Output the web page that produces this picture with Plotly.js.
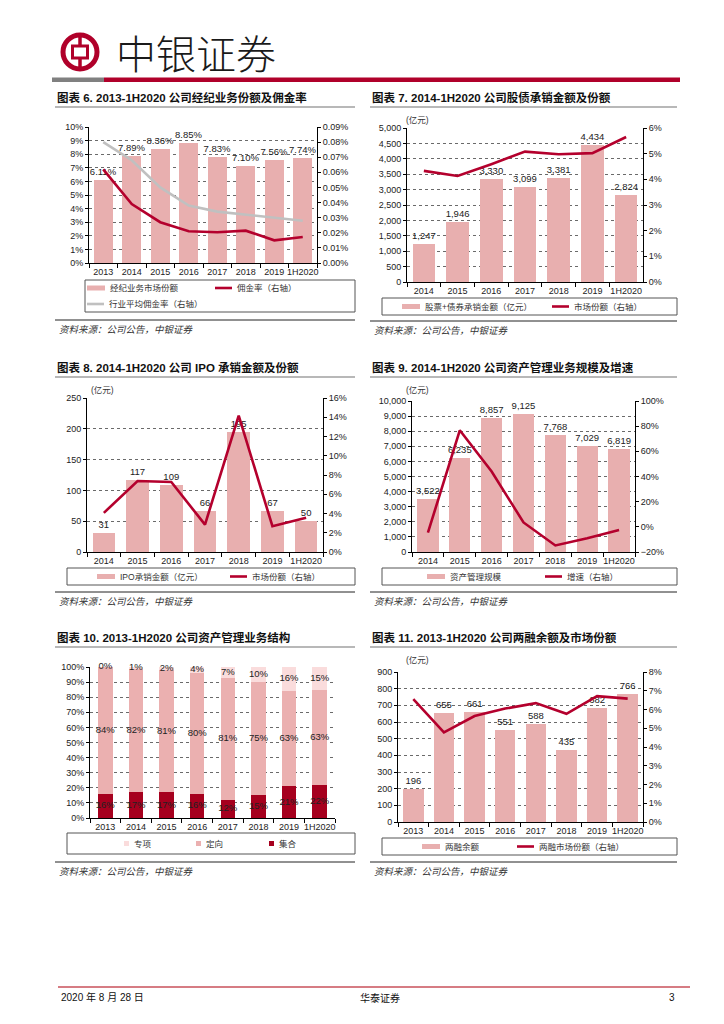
<!DOCTYPE html>
<html><head><meta charset="utf-8">
<script src="https://cdn.plot.ly/plotly-3.0.1.min.js"></script>
<style>html,body{margin:0;padding:0;background:#fff;}#page{width:724px;height:1024px;}</style>
</head><body><div id="page"></div>
<script>
// ---------------- data ----------------
const years8 = ['2013','2014','2015','2016','2017','2018','2019','1H2020'];
const years7 = ['2014','2015','2016','2017','2018','2019','1H2020'];
// 图表6
const brokerShare = [6.11,7.89,8.36,8.85,7.83,7.10,7.56,7.74];
const commissionRate = [0.062,0.039,0.027,0.021,0.0203,0.0214,0.015,0.0172];
const industryRate = [0.080,0.068,0.050,0.038,0.034,0.032,0.030,0.028];
// 图表7
const underwritingAmt = [1247,1946,3330,3099,3381,4434,2824];
const underwritingShare = [4.33,4.13,4.59,5.08,4.98,5.02,5.65];
// 图表8
const ipoAmt = [31,117,109,66,195,67,50];
const ipoShare = [4.07,7.37,7.27,2.85,14.16,2.68,3.55];
// 图表9
const amScale = [3522,6235,8857,9125,7768,7029,6819];
const amGrowth = [-4.6,76.7,44,3.5,-14.8,-9,-2.5];
// 图表10
const amSpecial = [0,1,2,4,7,10,16,15];
const amDirected = [84,82,81,80,81,75,63,63];
const amCollective = [16,17,17,16,12,15,21,22];
// 图表11
const marginAmt = [196,655,661,551,588,435,682,766];
const marginShare = [6.55,4.78,5.65,6.05,6.34,5.77,6.71,6.58];

// ---------------- helpers ----------------
const W=724,H=1024;
const px=x=>x/W, py=y=>1-y/H;
const RED='#b4002d', PINK='#e8afaf', GREY='#c0c0c0', GRID='#6a6a6a';
const NUM='"Liberation Sans", Arial, sans-serif';
const CJK='"Noto Sans CJK SC", sans-serif';
const MIX='"Liberation Sans", "Noto Sans CJK SC", sans-serif';

const layout={width:W,height:H,margin:{l:0,r:0,t:0,b:0},paper_bgcolor:'#fff',plot_bgcolor:'rgba(0,0,0,0)',
  showlegend:false,barmode:'stack',font:{family:NUM,size:9,color:'#222'},shapes:[],annotations:[]};
const data=[];

function txt(text,x,y,o){
  o=o||{};
  layout.annotations.push({text:text,x:px(x),y:py(y),xref:'paper',yref:'paper',showarrow:false,
    xanchor:o.xa||'left',yanchor:'middle',
    font:{family:o.family||CJK,size:o.size||9,color:o.color||'#222',weight:o.weight||'normal',style:o.style||'normal'}});
}
function line(x0,y0,x1,y1,color,w){
  layout.shapes.push({type:'line',xref:'paper',yref:'paper',x0:px(x0),y0:py(y0),x1:px(x1),y1:py(y1),line:{color:color,width:w}});
}
function rect(x0,y0,x1,y1,fill,lc,lw){
  layout.shapes.push({type:'rect',xref:'paper',yref:'paper',x0:px(x0),y0:py(y0),x1:px(x1),y1:py(y1),
    fillcolor:fill||'rgba(0,0,0,0)',line:{color:lc||'rgba(0,0,0,0)',width:lw||0}});
}

function axes(i,cfg){
  const xn=i===1?'x':'x'+i, xk=i===1?'xaxis':'xaxis'+i;
  const li=2*i-1, ri=2*i;
  const yl=li===1?'y':'y'+li, ylk=li===1?'yaxis':'yaxis'+li;
  const yr='y'+ri, yrk='yaxis'+ri;
  const [x0,y0,x1,y1]=cfg.rect;
  const tf={family:NUM,size:9,color:'#222'};
  layout[xk]={domain:[px(x0),px(x1)],anchor:yl,type:'category',showline:true,linecolor:'#000',linewidth:1,
    ticks:'outside',tickson:'boundaries',ticklen:4,tickcolor:'#000',showgrid:false,zeroline:false,
    tickangle:0,tickfont:tf,range:[-0.5,cfg.n-0.5],fixedrange:true};
  layout[ylk]=Object.assign({domain:[py(y1),py(y0)],anchor:xn,showline:true,linecolor:'#000',linewidth:1,
    ticks:'outside',ticklen:3,tickcolor:'#000',showgrid:true,gridcolor:GRID,griddash:'dot',gridwidth:1,
    zeroline:false,tickfont:tf,fixedrange:true},cfg.left);
  if(cfg.right){
    layout[yrk]=Object.assign({overlaying:yl,side:'right',anchor:xn,showline:true,linecolor:'#000',linewidth:1,
      ticks:'outside',ticklen:3,tickcolor:'#000',showgrid:false,zeroline:false,tickfont:tf,fixedrange:true},cfg.right);
  }
  return {x:xn,yl:yl,yr:yr};
}
function barTrace(ax,cats,vals,tmpl){
  return {type:'bar',x:cats,y:vals,xaxis:ax.x,yaxis:ax.yl,width:0.67,marker:{color:PINK,line:{width:0}},
    texttemplate:tmpl,textposition:'outside',constraintext:'none',textfont:{family:NUM,size:9.5,color:'#222'},cliponaxis:false,hoverinfo:'skip'};
}
function lineTrace(ax,cats,vals,color){
  return {type:'scatter',mode:'lines',x:cats,y:vals,xaxis:ax.x,yaxis:ax.yr,line:{color:color||RED,width:2.6},hoverinfo:'skip',cliponaxis:false};
}
function frame(title,tx,ty,ux0,ux1,srcY){
  txt(title,tx,ty,{family:MIX,size:11.5,weight:'bold',color:'#111'});
  line(ux0,ty+10,ux1,ty+10,'#a0a0a0',1.5);
  line(ux0,srcY,ux1,srcY,'#222',1);
  txt('资料来源：公司公告，中银证券',ux0+2,srcY+9,{size:9.5,style:'italic',color:'#333'});
}
function legBox(x0,y0,x1,y1){ rect(x0,y0,x1,y1,null,'#555',1); }
function legBar(x,y,label,color,w,h){ rect(x,y-(h||5)/2,x+(w||18),y+(h||5)/2,color||PINK); txt(label,x+(w||18)+3,y,{size:8.5,color:'#333',family:MIX}); }
function legLine(x,y,label,color){ line(x,y,x+17,y,color||RED,2.6); txt(label,x+20,y,{size:8.5,color:'#333',family:MIX}); }

// ---------------- header / footer ----------------
layout.shapes.push({type:'circle',xref:'paper',yref:'paper',x0:px(63),y0:py(35),x1:px(97),y1:py(69),fillcolor:'#fff',line:{color:'#b0002a',width:5}});
line(80,34,80,47,'#b0002a',3.5);
line(80,57,80,70,'#b0002a',3.5);
rect(72.5,46,87.5,58,'#fff','#b0002a',3);
txt('中银证券',114,52,{size:40,color:'#1a1a1a',weight:300});
rect(52,77.5,104,82,'#808080');
rect(104,77.5,680,82,'#b0002a');
line(58,987,690,987,'#c8505a',1.5);
txt('2020 年 8 月 28 日',59,997,{size:10,family:MIX,color:'#111'});
txt('华泰证券',380,997,{size:10,xa:'center',color:'#111'});
txt('3',677,997,{size:10,xa:'right',family:NUM,color:'#111'});

// ---------------- 图表6 ----------------
frame('图表 6. 2013-1H2020 公司经纪业务份额及佣金率',55,97,55,355,320);
let a=axes(1,{rect:[89,127,317,263],n:8,
  left:{range:[0,10],dtick:1,tick0:0,tickformat:'d',ticksuffix:'%'},
  right:{range:[0,0.09],dtick:0.01,tick0:0,tickformat:'.2f',ticksuffix:'%'}});
data.push(barTrace(a,years8,brokerShare,'%{y:.2f}%'));
data.push(lineTrace(a,years8,industryRate,GREY));
data.push(lineTrace(a,years8,commissionRate,RED));
legBox(85,280,355,312);
legBar(87,288,'经纪业务市场份额');
legLine(215,288,'佣金率（右轴）');
legLine(87,304,'行业平均佣金率（右轴）',GREY);

// ---------------- 图表7 ----------------
frame('图表 7. 2014-1H2020 公司股债承销金额及份额',370,97,370,677,321);
a=axes(2,{rect:[407,128,643,282],n:7,
  left:{range:[0,5000],dtick:500,tick0:0,tickformat:',d'},
  right:{range:[0,6],dtick:1,tick0:0,tickformat:'d',ticksuffix:'%'}});
data.push(barTrace(a,years7,underwritingAmt,'%{y:,d}'));
data.push(lineTrace(a,years7,underwritingShare));
txt('(亿元)',404,120,{size:8.5,family:MIX,color:'#333'});
legBox(382,298,677,315);
legBar(402,306.5,'股票+债券承销金额（亿元）');
legLine(552,306.5,'市场份额（右轴）');

// ---------------- 图表8 ----------------
frame('图表 8. 2014-1H2020 公司 IPO 承销金额及份额',55,367,55,355,592);
a=axes(3,{rect:[87,398,323,552],n:7,
  left:{range:[0,250],dtick:50,tick0:0,tickformat:'d'},
  right:{range:[0,16],dtick:2,tick0:0,tickformat:'d',ticksuffix:'%'}});
data.push(barTrace(a,years7,ipoAmt,'%{y}'));
data.push(lineTrace(a,years7,ipoShare));
txt('(亿元)',89,390,{size:8.5,family:MIX,color:'#333'});
legBox(67,568,355,585);
legBar(97,576.5,'IPO承销金额（亿元）');
legLine(230,576.5,'市场份额（右轴）');

// ---------------- 图表9 ----------------
frame('图表 9. 2014-1H2020 公司资产管理业务规模及增速',370,367,370,677,592);
a=axes(4,{rect:[412,401,635,552],n:7,
  left:{range:[0,10000],dtick:1000,tick0:0,tickformat:',d'},
  right:{range:[-20,100],dtick:20,tick0:-20,tickformat:'d',ticksuffix:'%'}});
data.push(barTrace(a,years7,amScale,'%{y:,d}'));
data.push(lineTrace(a,years7,amGrowth));
txt('(亿元)',404,390,{size:8.5,family:MIX,color:'#333'});
legBox(382,568,677,585);
legBar(427,576.5,'资产管理规模');
legLine(545,576.5,'增速（右轴）');

// ---------------- 图表10 ----------------
frame('图表 10. 2013-1H2020 公司资产管理业务结构',55,637,55,355,862);
a=axes(5,{rect:[90,667,335,818],n:8,
  left:{range:[0,100],dtick:10,tick0:0,tickformat:'d',ticksuffix:'%'},right:null});
const C_COL='#a6001e', C_DIR='#ebb0b0', C_SPE='#fadcdc';
const stackSeries=[[amCollective,C_COL],[amDirected,C_DIR],[amSpecial,C_SPE]];
const base=years8.map(()=>0);
stackSeries.forEach(([vals,col])=>{
  data.push({type:'bar',x:years8,y:vals,xaxis:a.x,yaxis:a.yl,width:0.47,marker:{color:col,line:{width:0}},hoverinfo:'skip'});
  const mids=vals.map((v,k)=>base[k]+v/2);
  data.push({type:'scatter',mode:'text',x:years8,y:mids,text:vals.map(v=>v+'%'),xaxis:a.x,yaxis:a.yl,
    textfont:{family:NUM,size:9.5,color:'#222'},cliponaxis:false,hoverinfo:'skip'});
  vals.forEach((v,k)=>base[k]+=v);
});
legBox(67,833,355,854);
legBar(124,843.5,'专项',C_SPE,5,5);
legBar(196,843.5,'定向',C_DIR,5,5);
legBar(269,843.5,'集合',C_COL,5,5);

// ---------------- 图表11 ----------------
frame('图表 11. 2013-1H2020 公司两融余额及市场份额',370,637,370,677,862);
a=axes(6,{rect:[398,672,643,822],n:8,
  left:{range:[0,900],dtick:100,tick0:0,tickformat:'d'},
  right:{range:[0,8],dtick:1,tick0:0,tickformat:'d',ticksuffix:'%'}});
data.push(barTrace(a,years8,marginAmt,'%{y}'));
data.push(lineTrace(a,years8,marginShare));
txt('(亿元)',404,660,{size:8.5,family:MIX,color:'#333'});
legBox(382,838,677,855);
legBar(422,846.5,'两融余额');
legLine(517,846.5,'两融市场份额（右轴）');

Plotly.newPlot('page',data,layout,{displayModeBar:false,staticPlot:true});
</script></body></html>
